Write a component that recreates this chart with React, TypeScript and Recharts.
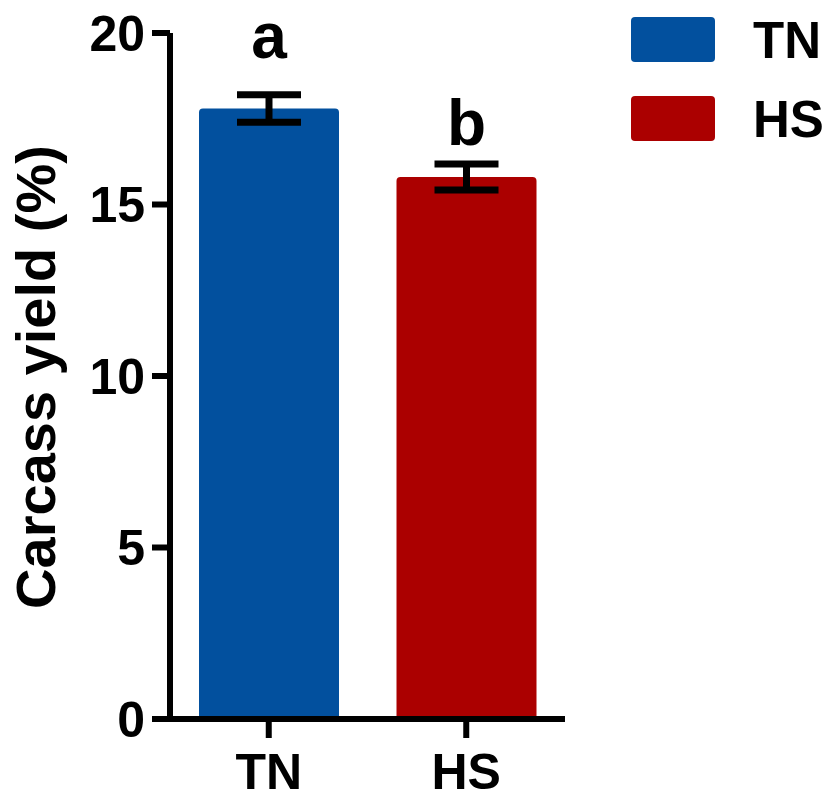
import { BarChart, Bar, XAxis, YAxis, ErrorBar, Cell, Legend, LabelList } from 'recharts';

const groups = ['TN', 'HS'];
const carcassYield = [17.8, 15.8];
const yieldSem = [0.4, 0.38];
const sigLetters = ['a', 'b'];
const yTicks = [0, 5, 10, 15, 20];

const BAR_COLORS = ['#02509E', '#AB0000'];
const FONT = '"Liberation Sans", Arial, sans-serif';

const data = groups.map((g, i) => ({
  group: g,
  value: carcassYield[i],
  err: yieldSem[i],
  letter: sigLetters[i],
}));

// how far above the bar top each letter sits
const LETTER_OFFSETS = [50, 32];

const renderLetter = (props: any) => {
  const { x, y, width, value, index } = props;
  return (
    <text
      x={x + width / 2}
      y={y - (LETTER_OFFSETS[index] ?? 40)}
      textAnchor="middle"
      fontFamily={FONT}
      fontWeight="bold"
      fontSize={64}
      fill="#000"
    >
      {value}
    </text>
  );
};

const renderLegend = () => (
  <svg width={196} height={170} style={{ overflow: 'visible' }}>
    {groups.map((g, i) => (
      <g key={g}>
        <rect x={0} y={17 + i * 79} width={84} height={45} rx={4} fill={BAR_COLORS[i]} />
        <text x={122} y={17 + i * 79 + 41} fontFamily={FONT} fontWeight="bold" fontSize={51} fill="#000">
          {g}
        </text>
      </g>
    ))}
  </svg>
);

const YTitle = () => (
  <text
    x={55}
    y={377}
    transform="rotate(-90, 55, 377)"
    textAnchor="middle"
    fontFamily={FONT}
    fontWeight="bold"
    fontSize={56}
    fill="#000"
  >
    Carcass yield (%)
  </text>
);

const tickStyle = { fill: '#000', fontSize: 50, fontWeight: 'bold', fontFamily: FONT };
const lineStyle = { stroke: '#000', strokeWidth: 6 };

export default function App() {
  return (
    <div style={{ position: 'absolute', left: 0, top: 0, background: '#fff' }}>
      <BarChart
        width={832}
        height={798}
        data={data}
        margin={{ top: 33, right: 267, bottom: 0, left: 0 }}
        barSize={140}
      >
        <XAxis
          dataKey="group"
          height={79}
          tick={tickStyle}
          tickSize={19}
          tickMargin={15}
          axisLine={lineStyle}
          tickLine={lineStyle}
        />
        <YAxis
          width={170}
          domain={[0, 20]}
          ticks={yTicks}
          tick={tickStyle}
          tickSize={18}
          tickMargin={7}
          axisLine={lineStyle}
          tickLine={lineStyle}
          label={<YTitle />}
        />
        <Legend
          layout="vertical"
          align="center"
          verticalAlign="middle"
          width={196}
          wrapperStyle={{ left: 631, top: 0, width: 196, height: 170 }}
          content={renderLegend}
        />
        <Bar dataKey="value" isAnimationActive={false} radius={[4, 4, 0, 0]}>
          {data.map((d, i) => (
            <Cell key={d.group} fill={BAR_COLORS[i]} />
          ))}
          <ErrorBar dataKey="err" width={32} strokeWidth={7} stroke="#000" direction="y" />
          <LabelList dataKey="letter" content={renderLetter} />
        </Bar>
      </BarChart>
    </div>
  );
}
